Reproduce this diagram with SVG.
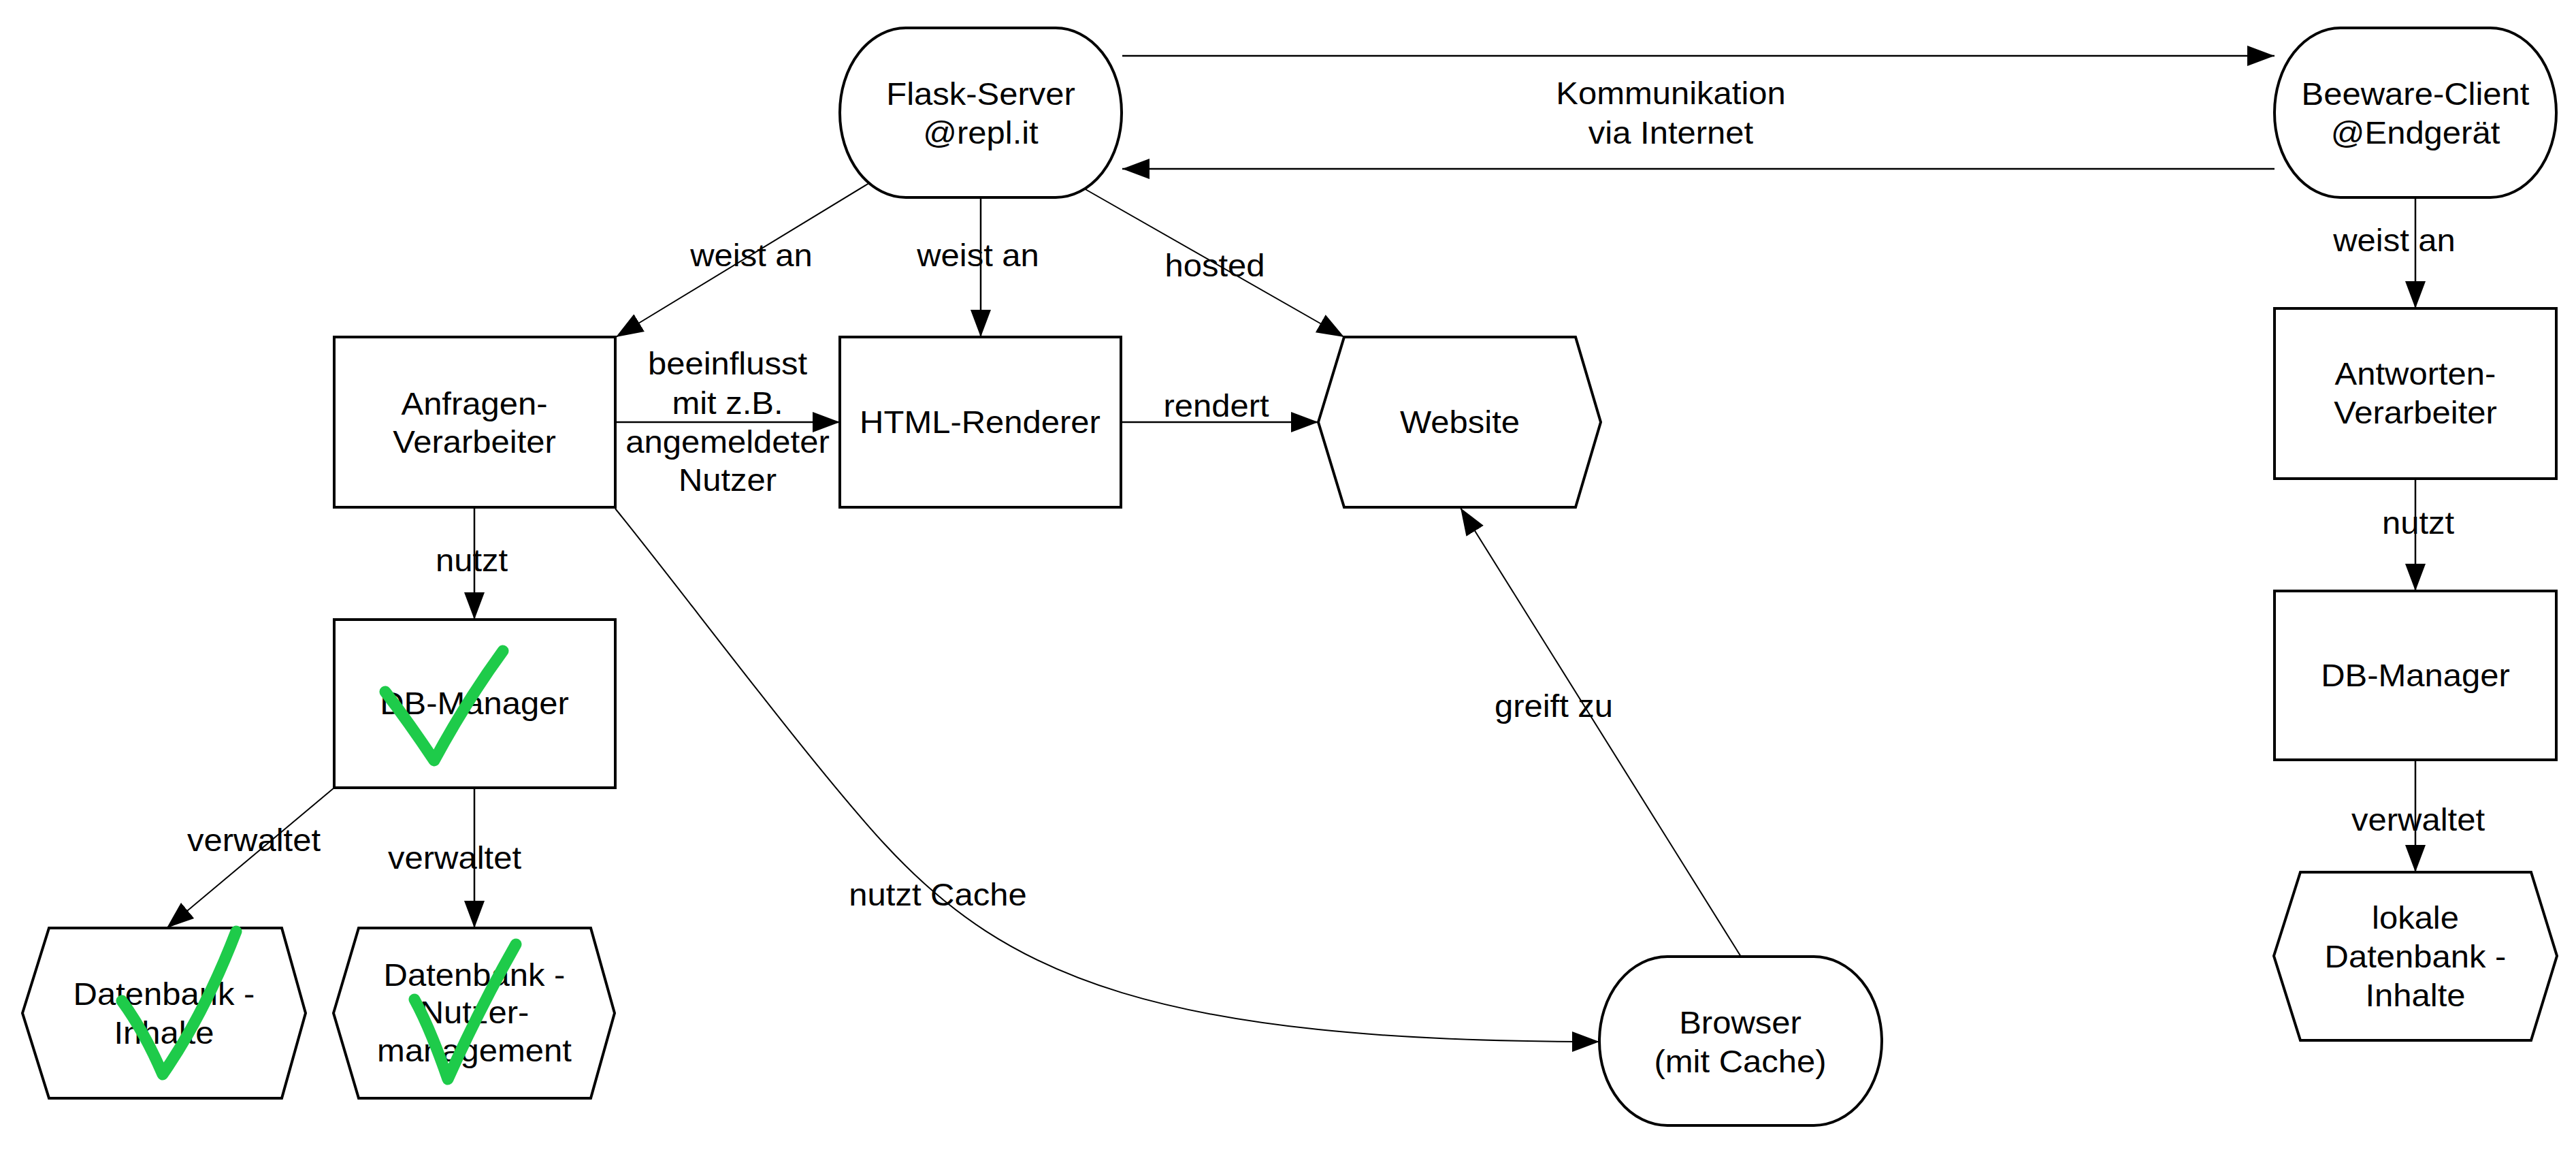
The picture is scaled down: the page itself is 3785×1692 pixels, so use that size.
<svg xmlns="http://www.w3.org/2000/svg" width="3785" height="1692" viewBox="0 0 3785 1692">
<style>
  .node { fill: #ffffff; stroke: #000000; stroke-width: 4; }
  .conn { fill: none; stroke: #000000; stroke-width: 2.5; }
  .thin { fill: none; stroke: #000000; stroke-width: 2; }
  text { font-family: "Liberation Sans", Arial, sans-serif; font-size: 46px; fill: #000000; text-anchor: middle; }
  .check { fill: none; stroke: #1ecb4a; stroke-width: 17; stroke-linecap: round; stroke-linejoin: round; }
</style>
<defs>
  <marker id="arrow" markerUnits="userSpaceOnUse" markerWidth="40" markerHeight="30" refX="40" refY="15" orient="auto">
    <path d="M0,0 L40,15 L0,30 z" fill="#000000"/>
  </marker>
</defs>
<rect x="0" y="0" width="3785" height="1692" fill="#ffffff"/>

<g id="connectors">
  <line class="conn" x1="1649" y1="82" x2="3342" y2="82" marker-end="url(#arrow)"/>
  <line class="conn" x1="3342" y1="248" x2="1649" y2="248" marker-end="url(#arrow)"/>
  <line class="thin" x1="1277" y1="269" x2="905" y2="495" marker-end="url(#arrow)"/>
  <line class="conn" x1="1441" y1="290" x2="1441" y2="495" marker-end="url(#arrow)"/>
  <line class="thin" x1="1593" y1="277" x2="1975" y2="495" marker-end="url(#arrow)"/>
  <line class="conn" x1="904" y1="620" x2="1234" y2="620" marker-end="url(#arrow)"/>
  <line class="conn" x1="1647" y1="620" x2="1937" y2="620" marker-end="url(#arrow)"/>
  <line class="conn" x1="697" y1="745" x2="697" y2="910" marker-end="url(#arrow)"/>
  <path class="thin" d="M904,747 C1004,870 1192,1123 1300,1240 C1480,1435 1700,1530 2350,1530" marker-end="url(#arrow)"/>
  <line class="thin" x1="2558" y1="1405" x2="2146" y2="746" marker-end="url(#arrow)"/>
  <line class="thin" x1="491" y1="1157" x2="245" y2="1363" marker-end="url(#arrow)"/>
  <line class="conn" x1="697" y1="1157" x2="697" y2="1363" marker-end="url(#arrow)"/>
  <line class="conn" x1="3549" y1="290" x2="3549" y2="453" marker-end="url(#arrow)"/>
  <line class="conn" x1="3549" y1="703" x2="3549" y2="868" marker-end="url(#arrow)"/>
  <line class="conn" x1="3549" y1="1116" x2="3549" y2="1281" marker-end="url(#arrow)"/>

  <text transform="translate(2455 0) scale(1.065 1)"><tspan x="0" y="153">Kommunikation</tspan><tspan x="0" y="211">via Internet</tspan></text>
  <text transform="translate(1104 0) scale(1.065 1)" x="0" y="391">weist an</text>
  <text transform="translate(1437 0) scale(1.065 1)" x="0" y="391">weist an</text>
  <text transform="translate(1785 0) scale(1.065 1)" x="0" y="406">hosted</text>
  <text transform="translate(1069 0) scale(1.065 1)"><tspan x="0" y="550">beeinflusst</tspan><tspan x="0" y="608">mit z.B.</tspan><tspan x="0" y="665">angemeldeter</tspan><tspan x="0" y="721">Nutzer</tspan></text>
  <text transform="translate(1787 0) scale(1.065 1)" x="0" y="612">rendert</text>
  <text transform="translate(693 0) scale(1.065 1)" x="0" y="839">nutzt</text>
  <text transform="translate(373 0) scale(1.065 1)" x="0" y="1250">verwaltet</text>
  <text transform="translate(668 0) scale(1.065 1)" x="0" y="1276">verwaltet</text>
  <text transform="translate(1378 0) scale(1.065 1)" x="0" y="1330">nutzt Cache</text>
  <text transform="translate(2283 0) scale(1.065 1)" x="0" y="1053">greift zu</text>
  <text transform="translate(3518 0) scale(1.065 1)" x="0" y="369">weist an</text>
  <text transform="translate(3553 0) scale(1.065 1)" x="0" y="784">nutzt</text>
  <text transform="translate(3553 0) scale(1.065 1)" x="0" y="1220">verwaltet</text>
</g>

<g id="flask-server">
  <rect class="node" x="1234" y="41" width="414" height="249" rx="97" ry="124"/>
  <text transform="translate(1441 0) scale(1.065 1)"><tspan x="0" y="154">Flask-Server</tspan><tspan x="0" y="211">@repl.it</tspan></text>
</g>
<g id="beeware-client">
  <rect class="node" x="3342" y="41" width="414" height="249" rx="97" ry="124"/>
  <text transform="translate(3549 0) scale(1.065 1)"><tspan x="0" y="154">Beeware-Client</tspan><tspan x="0" y="211">@Endgerät</tspan></text>
</g>
<g id="anfragen-verarbeiter">
  <rect class="node" x="491" y="495" width="413" height="250"/>
  <text transform="translate(697 0) scale(1.065 1)"><tspan x="0" y="609">Anfragen-</tspan><tspan x="0" y="665">Verarbeiter</tspan></text>
</g>
<g id="html-renderer">
  <rect class="node" x="1234" y="495" width="413" height="250"/>
  <text transform="translate(1440 0) scale(1.065 1)" x="0" y="636">HTML-Renderer</text>
</g>
<g id="website">
  <polygon class="node" points="1937,620 1975,495 2315,495 2352,620 2315,745 1975,745"/>
  <text transform="translate(2145 0) scale(1.065 1)" x="0" y="636">Website</text>
</g>
<g id="db-manager-left">
  <rect class="node" x="491" y="910" width="413" height="247"/>
  <text transform="translate(697 0) scale(1.065 1)" x="0" y="1049">DB-Manager</text>
</g>
<g id="datenbank-inhalte">
  <polygon class="node" points="33,1488 72,1363 414,1363 449,1488 414,1613 72,1613"/>
  <text transform="translate(241 0) scale(1.065 1)"><tspan x="0" y="1476">Datenbank -</tspan><tspan x="0" y="1533">Inhalte</tspan></text>
</g>
<g id="datenbank-nutzermanagement">
  <polygon class="node" points="490,1488 527,1363 868,1363 903,1488 868,1613 527,1613"/>
  <text transform="translate(697 0) scale(1.065 1)"><tspan x="0" y="1448">Datenbank -</tspan><tspan x="0" y="1503">Nutzer-</tspan><tspan x="0" y="1559">management</tspan></text>
</g>
<g id="browser">
  <rect class="node" x="2350" y="1405" width="415" height="248" rx="100" ry="124"/>
  <text transform="translate(2557 0) scale(1.065 1)"><tspan x="0" y="1518">Browser</tspan><tspan x="0" y="1575">(mit Cache)</tspan></text>
</g>
<g id="antworten-verarbeiter">
  <rect class="node" x="3342" y="453" width="414" height="250"/>
  <text transform="translate(3549 0) scale(1.065 1)"><tspan x="0" y="565">Antworten-</tspan><tspan x="0" y="622">Verarbeiter</tspan></text>
</g>
<g id="db-manager-right">
  <rect class="node" x="3342" y="868" width="414" height="248"/>
  <text transform="translate(3549 0) scale(1.065 1)" x="0" y="1008">DB-Manager</text>
</g>
<g id="lokale-datenbank">
  <polygon class="node" points="3341,1404 3380,1281 3719,1281 3757,1404 3719,1528 3380,1528"/>
  <text transform="translate(3549 0) scale(1.065 1)"><tspan x="0" y="1364">lokale</tspan><tspan x="0" y="1421">Datenbank -</tspan><tspan x="0" y="1478">Inhalte</tspan></text>
</g>

<g id="checkmarks">
  <path class="check" d="M566,1016 Q600,1060 638,1117 Q685,1030 739,956"/>
  <path class="check" d="M179,1470 Q212,1515 239,1578 Q300,1490 347,1368"/>
  <path class="check" d="M609,1468 Q632,1510 658,1585 Q705,1480 758,1387"/>
</g>
</svg>
